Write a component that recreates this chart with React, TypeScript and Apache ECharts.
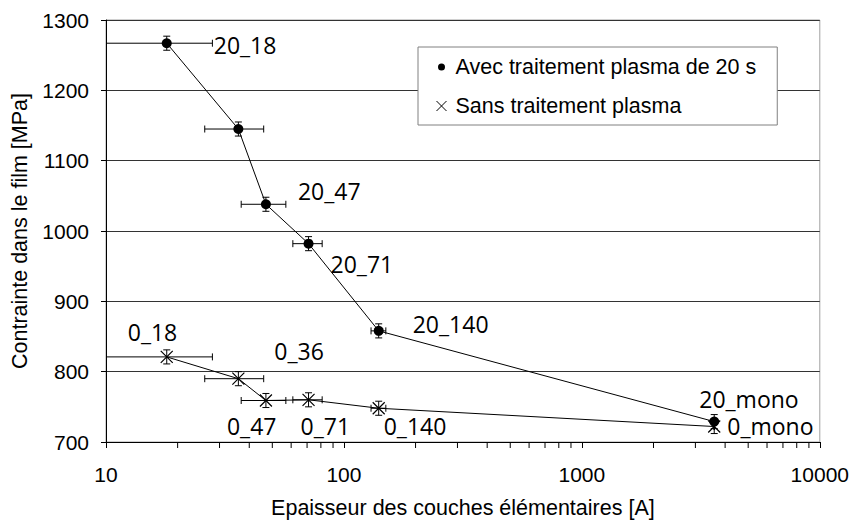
import React, { useEffect, useRef } from "react";
import * as echarts from "echarts";

// ---- data ----
const avecX = [18, 36, 47, 71, 140, 3600];
const avecY = [1267, 1145, 1038, 982, 858, 729];
const avecNames = ["20_18", "", "20_47", "20_71", "20_140", "20_mono"];

const sansX = [18, 36, 47, 71, 140, 3600];
const sansY = [821, 790, 759, 760, 748, 722];
const sansNames = ["0_18", "0_36", "0_47", "0_71", "0_140", "0_mono"];

const xErr = [10, 10, 10, 10, 10, 10];
const yErr = [10, 10, 10, 10, 10, 10];

const yTicks = [700, 800, 900, 1000, 1100, 1200, 1300];
const minorTickValues = [20, 30, 40, 50, 60, 70, 80, 90, 200, 300, 400, 500, 600, 700, 800, 900, 2000, 3000, 4000, 5000, 6000, 7000, 8000, 9000];

// ---- label placement (style) ----
const avecLabelOffsets = [[47, 2], [0, 0], [32, -13], [22, 20], [34, -7], [-15, -23]];
const sansLabelOffsets = [[-39, -25], [36, -28], [-39, 25], [-8, 26], [5, 18], [13, -1]];

const crossPath = "path://M0,0L10,10M10,0L0,10";
const legendDotPath = "path://M0,0M10,10M1.5,5a3.5,3.5 0 1,0 7,0a3.5,3.5 0 1,0 -7,0z";
const AXIS_FONT = "'Liberation Sans', Arial, sans-serif";
const LABEL_FONT = "'Open Sans', 'Liberation Sans', sans-serif";

function buildPoints(xs: number[], ys: number[], names: string[], offsets: number[][]) {
  return xs.map((x, i) => ({
    value: [x, ys[i]],
    name: names[i],
    label: {
      show: names[i] !== "",
      position: "inside",
      align: "left",
      verticalAlign: "middle",
      offset: offsets[i],
    },
  }));
}

function errRows(xs: number[], ys: number[]) {
  return xs.map((x, i) => [x, ys[i], xErr[i], yErr[i]]);
}

function renderErr(params: any, api: any) {
  const x = api.value(0), y = api.value(1), ex = api.value(2), ey = api.value(3);
  const cs = params.coordSys;
  const c = api.coord([x, y]);
  const l = api.coord([x - ex, y]);
  const r = api.coord([x + ex, y]);
  const t = api.coord([x, y + ey]);
  const b = api.coord([x, y - ey]);
  const cap = 3.5;
  const style = { stroke: "#000", lineWidth: 1 };
  const children: any[] = [];
  const lx = Math.max(l[0], cs.x);
  children.push({ type: "line", shape: { x1: lx, y1: c[1], x2: r[0], y2: c[1] }, style });
  if (l[0] >= cs.x) children.push({ type: "line", shape: { x1: l[0], y1: c[1] - cap, x2: l[0], y2: c[1] + cap }, style });
  children.push({ type: "line", shape: { x1: r[0], y1: c[1] - cap, x2: r[0], y2: c[1] + cap }, style });
  children.push({ type: "line", shape: { x1: c[0], y1: t[1], x2: c[0], y2: b[1] }, style });
  children.push({ type: "line", shape: { x1: c[0] - cap, y1: t[1], x2: c[0] + cap, y2: t[1] }, style });
  children.push({ type: "line", shape: { x1: c[0] - cap, y1: b[1], x2: c[0] + cap, y2: b[1] }, style });
  return { type: "group", children };
}

export default function App() {
  const ref = useRef<HTMLDivElement>(null);
  useEffect(() => {
    if (!ref.current) return;
    const chart = echarts.init(ref.current, null, { renderer: "svg" });
    const labelStyle = {
      fontFamily: LABEL_FONT,
      fontSize: 23,
      lineHeight: 22,
      color: "#000",
      formatter: (p: any) => p.name,
    };
    chart.setOption({
      animation: false,
      backgroundColor: "#fff",
      grid: {
        left: 106, right: 32, top: 20, bottom: 80,
        show: true, borderColor: "#a0a0a0", borderWidth: 1, backgroundColor: "transparent",
      },
      legend: {
        orient: "vertical",
        left: 418,
        top: 47,
        padding: [9, 21, 8, 16],
        itemGap: 17,
        itemWidth: 18,
        itemHeight: 10,
        backgroundColor: "#fff",
        borderColor: "#808080",
        borderWidth: 1,
        borderRadius: 0,
        selectedMode: false,
        textStyle: { fontFamily: AXIS_FONT, fontSize: 21.5, color: "#000" },
        data: [
          { name: "Avec traitement plasma de 20 s", icon: legendDotPath, itemStyle: { color: "#000" } },
          {
            name: "Sans traitement plasma",
            icon: crossPath,
            itemStyle: { color: "none", borderColor: "#000", borderWidth: 1 },
          },
        ],
      },
      xAxis: {
        type: "log",
        logBase: 10,
        min: 10,
        max: 10000,
        name: "Epaisseur des couches élémentaires [A]",
        nameLocation: "middle",
        nameGap: 55,
        nameTextStyle: { fontFamily: AXIS_FONT, fontSize: 21.5, color: "#000" },
        axisLine: { show: true, lineStyle: { color: "#000", width: 1 } },
        axisTick: { show: true, inside: false, length: 6, lineStyle: { color: "#000" } },
        splitLine: { show: false },
        axisLabel: {
          fontFamily: AXIS_FONT, fontSize: 21, color: "#000", margin: 22,
          formatter: (v: number) => String(v),
        },
      },
      yAxis: {
        type: "value",
        min: yTicks[0],
        max: yTicks[yTicks.length - 1],
        interval: 100,
        name: "Contrainte dans le film [MPa]",
        nameLocation: "middle",
        nameGap: 74,
        nameTextStyle: { fontFamily: AXIS_FONT, fontSize: 21.5, color: "#000" },
        axisLine: { show: true, lineStyle: { color: "#000", width: 1 } },
        axisTick: { show: true, inside: false, length: 5, lineStyle: { color: "#000" } },
        splitLine: { show: true, lineStyle: { color: "#333", width: 1 } },
        axisLabel: {
          fontFamily: AXIS_FONT, fontSize: 21, color: "#000", margin: 17,
          formatter: (v: number) => String(v),
        },
      },
      series: [
        {
          type: "custom",
          name: "minorTicks",
          silent: true,
          clip: false,
          renderItem: (params: any, api: any) => {
            const p = api.coord([api.value(0), yTicks[0]]);
            return {
              type: "line",
              shape: { x1: p[0], y1: p[1], x2: p[0], y2: p[1] + 6 },
              style: { stroke: "#000", lineWidth: 1 },
            };
          },
          data: minorTickValues.map((v) => [v, yTicks[0]]),
          z: 1,
        },
        {
          type: "custom",
          name: "errAvec",
          silent: true,
          renderItem: renderErr,
          data: errRows(avecX, avecY),
          z: 2,
        },
        {
          type: "custom",
          name: "errSans",
          silent: true,
          renderItem: renderErr,
          data: errRows(sansX, sansY),
          z: 2,
        },
        {
          type: "line",
          name: "Avec traitement plasma de 20 s",
          symbol: "circle",
          symbolSize: 10,
          symbolKeepAspect: true,
          showAllSymbol: true,
          itemStyle: { color: "#000" },
          lineStyle: { color: "#000", width: 1 },
          label: labelStyle,
          data: buildPoints(avecX, avecY, avecNames, avecLabelOffsets),
          z: 3,
        },
        {
          type: "line",
          name: "Sans traitement plasma",
          symbol: crossPath,
          symbolSize: 12,
          symbolKeepAspect: true,
          showAllSymbol: true,
          itemStyle: { color: "#000", borderColor: "#000", borderWidth: 1.2 },
          lineStyle: { color: "#000", width: 1 },
          label: labelStyle,
          data: buildPoints(sansX, sansY, sansNames, sansLabelOffsets),
          z: 3,
        },
      ],
    });
    return () => chart.dispose();
  }, []);
  return <div ref={ref} style={{ width: 852, height: 524, position: "absolute", left: 0, top: 0 }} />;
}
